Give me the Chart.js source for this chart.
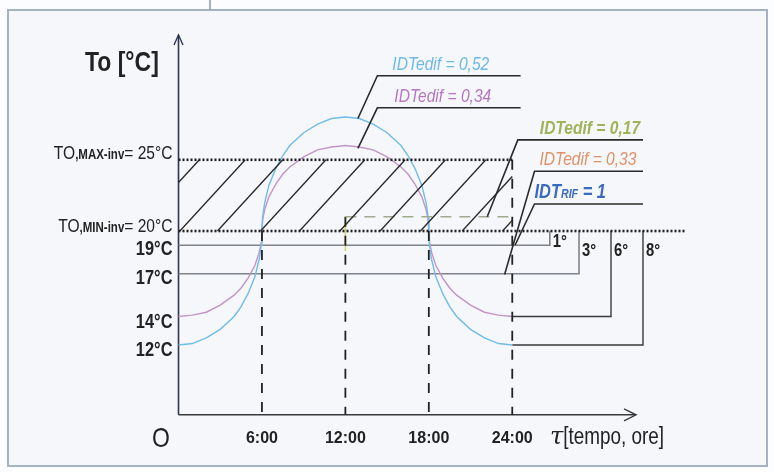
<!DOCTYPE html>
<html><head><meta charset="utf-8">
<script src="https://cdn.jsdelivr.net/npm/chart.js@4.4.1/dist/chart.umd.min.js"></script>
<style>html,body{margin:0;padding:0;background:#fcfdfe;}canvas{display:block;}</style>
</head><body>
<canvas id="c" width="774" height="472"></canvas>
<script>
// ---------------- DATA ----------------
const timeHours   = [0,1,2,3,4,4.5,5,5.5,5.8,5.95,6,6.05,6.2,6.5,7,7.5,8,9,10,11,12,13,14,15,16,16.5,17,17.5,17.8,17.95,18,18.05,18.2,18.5,19,19.5,20,21,22,23,24];
const tempBlue052 = [12.0,12.1,12.5,13.1,14.0,14.7,15.6,16.8,18.0,19.0,20.0,21.0,22.0,23.2,24.4,25.3,26.0,26.9,27.5,27.9,28.0,27.9,27.5,26.9,26.0,25.3,24.4,23.2,22.0,21.0,20.0,19.0,18.0,16.8,15.6,14.7,14.0,13.1,12.5,12.1,12.0];
const tempPurple034 = [14.0,14.1,14.3,14.8,15.5,16.0,16.7,17.6,18.5,19.2,20.0,20.8,21.5,22.4,23.3,24.0,24.5,25.2,25.7,25.9,26.0,25.9,25.7,25.2,24.5,24.0,23.3,22.4,21.5,20.8,20.0,19.2,18.5,17.6,16.7,16.0,15.5,14.8,14.3,14.1,14.0];

const limitMax = 25, limitMin = 20;          // To,MAX-inv / To,MIN-inv
const limitMaxEndX = 24, limitMinEndX = 36.5;
const greenLevel = 21, greenStartX = 12, greenEndX = 24;

const bracketLevels = [19, 17, 14, 12];
const bracketStartX = [0, 0, 24, 24];
const bracketEndX   = [26.7, 28.8, 31.1, 33.4];
const bracketLabels = ['1°', '3°', '6°', '8°'];

const verticalX   = [6, 12, 18, 24];
const verticalTop = [20, 21, 20, 25];

const hatchBaseX = [-3.2, 0.1, 2.8, 5.9, 8.7, 11.6, 14.5, 17.4, 20.4, 23.3];
const hatchRunHours = 4.7;

const idtLabels      = ['IDTedif = 0,52', 'IDTedif = 0,34', 'IDTedif = 0,17', 'IDTedif = 0,33', 'IDT|RIF|= 1'];
const leaderStartX   = [14.3, 14.3, 24.4, 25.6, 25.6];
const leaderEndX     = [24.6, 24.6, 33.4, 33.4, 33.4];
const leaderY        = [30.9, 28.65, 26.4, 24.2, 21.9];
const leaderTargetX  = [12.9, 12.9, 22.2, 23.45, 24.2];
const leaderTargetY  = [27.9, 25.8, 21.0, 16.95, 19.0];

const xTickValues = [6, 12, 18, 24];
const xTickLabels = ['6:00', '12:00', '18:00', '24:00'];
const yTickValues = [25, 20, 19, 17, 14, 12];
const yTickLabels = ['TO,MAX-inv= 25°C', 'TO,MIN-inv= 20°C', '19°C', '17°C', '14°C', '12°C'];
const yAxisTitle = 'To [°C]';
const xAxisTitle = 'τ[tempo, ore]';
const originLabel = 'O';

// ---------------- LAYOUT / STYLE ----------------
const Y_MIN = 7.1, Y_MAX = 33.76, X_MAX = 37.5, X_AXIS_END = 32.9;
const yLabelDy = [-1, 1, 10, 10, 11, 11];
const idtDx = [15, 17, 22, 5, 0];
const idtColors = ['#6fb9e6', '#b676c1', '#9fb358', '#de9166', '#3a6abd'];
const idtWeights = ['normal', 'normal', 'bold', 'normal', 'bold'];

function hasFont(name){
  const c = document.createElement('canvas').getContext('2d');
  const s = 'abcdefghijklmnopqrstuvwxyz0123456789ABCDEFG';
  c.font = '40px monospace'; const a = c.measureText(s).width;
  c.font = `40px '${name}', monospace`; const b = c.measureText(s).width;
  return Math.abs(a - b) > 0.5;
}
const NARROW = hasFont('Liberation Sans Narrow');
const SX = NARROW ? 1 : 0.82;
const FAM = NARROW ? "'Liberation Sans Narrow'" : "'Liberation Sans'";
function fnt(size, weight, style){ return `${style||'normal'} ${weight||'normal'} ${size}px ${FAM}`; }

// ---------------- DATASETS ----------------
const ds = [];
function seg(pts, color, width, dash){
  ds.push({data: pts.map(p => ({x: p[0], y: p[1]})), showLine: true, borderColor: color,
    borderWidth: width, borderDash: dash || [], pointRadius: 0, pointHoverRadius: 0,
    fill: false, tension: 0, clip: false});
}
const DARK = '#2b2b2b';
// leaders + underlines
for (let i = 0; i < idtLabels.length; i++) {
  seg([[leaderEndX[i], leaderY[i]], [leaderStartX[i], leaderY[i]], [leaderTargetX[i], leaderTargetY[i]]], DARK, 1.6);
}
// hatch lines (clipped to 0..24)
for (const b of hatchBaseX) {
  let x1 = b, y1 = limitMin, x2 = b + hatchRunHours, y2 = limitMax;
  const k = (limitMax - limitMin) / hatchRunHours;
  if (x1 < 0) { y1 = limitMin + k * (0 - b); x1 = 0; }
  if (x2 > limitMaxEndX) { x2 = limitMaxEndX; y2 = limitMin + k * (limitMaxEndX - b); }
  if (x2 > x1) seg([[x1, y1], [x2, y2]], '#262626', 1.3);
}
// dotted limits
seg([[0, limitMax], [limitMaxEndX, limitMax]], '#1e1e1e', 2.6, [2, 2]);
seg([[0, limitMin], [limitMinEndX, limitMin]], '#1e1e1e', 2.6, [2, 2]);
// green dashed
seg([[greenStartX, greenLevel], [greenEndX, greenLevel]], '#9fab8e', 1.6, [11, 8]);
// verticals
for (let i = 0; i < verticalX.length; i++) {
  seg([[verticalX[i], verticalTop[i]], [verticalX[i], Y_MIN]], '#222', 1.8, [10, 9]);
}
seg([[12, greenLevel], [12, 18.6]], '#d6d36a', 1.6);
// curves
seg(timeHours.map((t, i) => [t, tempBlue052[i]]), '#72bce8', 1.4);
seg(timeHours.map((t, i) => [t, tempPurple034[i]]), '#c295c7', 1.4);
// brackets
for (let i = 0; i < bracketLevels.length; i++) {
  seg([[bracketStartX[i], bracketLevels[i]], [bracketEndX[i], bracketLevels[i]], [bracketEndX[i], limitMin]],
      i < 2 ? '#7f848c' : '#3a3a3a', i < 2 ? 1.6 : 1.4);
}
// axes
seg([[0, Y_MIN], [0, Y_MAX]], '#2d3550', 1.6);
seg([[0, Y_MIN], [X_AXIS_END, Y_MIN]], '#3a3a3a', 1.6);

// ---------------- PLUGINS ----------------
function drawParts(ctx, parts, x, y, align){
  let total = 0; const ws = [];
  for (const p of parts) { ctx.font = p.font; const w = ctx.measureText(p.t).width * (p.sx ?? SX); ws.push(w); total += w; }
  let cx = align === 'right' ? x - total : (align === 'center' ? x - total / 2 : x);
  parts.forEach((p, i) => {
    ctx.save(); ctx.font = p.font; ctx.fillStyle = p.color || '#222';
    ctx.textBaseline = 'alphabetic'; ctx.textAlign = 'left';
    ctx.translate(cx, y); ctx.scale(p.sx ?? SX, 1); ctx.fillText(p.t, 0, 0); ctx.restore();
    cx += ws[i];
  });
}
const framePlugin = {
  id: 'frame',
  beforeDraw(chart){
    const ctx = chart.ctx;
    ctx.save();
    ctx.fillStyle = '#fcfdfe'; ctx.fillRect(0, 0, 774, 472);
    ctx.fillStyle = '#f5f7fb'; ctx.fillRect(8, 10, 759, 456);
    ctx.strokeStyle = '#a6b1c2'; ctx.lineWidth = 2; ctx.strokeRect(8, 10, 759, 456);
    ctx.strokeStyle = '#8799b3'; ctx.lineWidth = 1.5;
    ctx.beginPath(); ctx.moveTo(210, 0); ctx.lineTo(210, 10); ctx.stroke();
    ctx.restore();
  }
};
const textPlugin = {
  id: 'texts',
  afterDatasetsDraw(chart){
    const ctx = chart.ctx, xs = chart.scales.x, ys = chart.scales.y;
    const X = v => xs.getPixelForValue(v), Y = v => ys.getPixelForValue(v);
    ctx.save();
    // arrowheads
    ctx.strokeStyle = '#2d3550'; ctx.lineWidth = 1.4;
    const tx = X(0), ty = Y(Y_MAX);
    ctx.beginPath(); ctx.moveTo(tx - 4.5, ty + 10); ctx.lineTo(tx, ty); ctx.lineTo(tx + 4.5, ty + 10); ctx.stroke();
    ctx.strokeStyle = '#3a3a3a';
    const ax = X(X_AXIS_END), ay = Y(Y_MIN);
    ctx.beginPath(); ctx.moveTo(ax - 12, ay - 6); ctx.lineTo(ax, ay); ctx.lineTo(ax - 12, ay + 6); ctx.stroke();
    // titles
    drawParts(ctx, [{t: yAxisTitle, font: fnt(28, 'bold'), color: '#222'}], 85, 71, 'left');
    drawParts(ctx, [{t: originLabel, font: fnt(28), color: '#222'}], 152, 447, 'left');
    drawParts(ctx, [{t: xAxisTitle.slice(0, 1), font: "italic 24px 'DejaVu Serif'", sx: 1, color: '#222'},
                    {t: xAxisTitle.slice(1), font: fnt(23), color: '#222'}], 550, 444, 'left');
    // y labels
    yTickValues.forEach((v, i) => {
      const lab = yTickLabels[i], yy = Y(v) + yLabelDy[i], xr = X(0) - 6;
      const m = lab.match(/^(TO)(,[A-Za-z]+-inv)(= .*)$/);
      if (m) {
        drawParts(ctx, [{t: m[1], font: fnt(19), color: '#222'}, {t: m[2], font: fnt(14, 'bold'), color: '#222'},
                        {t: m[3], font: fnt(19), color: '#222'}], xr, yy, 'right');
      } else {
        drawParts(ctx, [{t: lab, font: fnt(20, 'bold'), color: '#222'}], xr, yy, 'right');
      }
    });
    // bracket labels
    bracketLabels.forEach((lab, i) => {
      const yy = i === 0 ? Y(bracketLevels[0]) + 2 : Y(limitMin) + 25;
      drawParts(ctx, [{t: lab, font: fnt(18, 'bold'), color: '#222'}], X(bracketEndX[i]) + 3, yy, 'left');
    });
    // IDT labels
    idtLabels.forEach((lab, i) => {
      const x0 = X(leaderStartX[i]) + idtDx[i], y0 = Y(leaderY[i]) - 6;
      const parts = lab.split('|');
      if (parts.length === 3) {
        drawParts(ctx, [{t: parts[0], font: fnt(20, 'bold', 'italic'), color: idtColors[i]},
                        {t: parts[1], font: fnt(13, 'bold', 'italic'), color: idtColors[i]},
                        {t: ' ' + parts[2], font: fnt(20, 'bold', 'italic'), color: idtColors[i]}], x0, y0, 'left');
      } else {
        drawParts(ctx, [{t: lab, font: fnt(19, idtWeights[i], 'italic'), color: idtColors[i]}], x0, y0, 'left');
      }
    });
    ctx.restore();
  }
};

new Chart(document.getElementById('c'), {
  type: 'scatter',
  data: {datasets: ds},
  options: {
    responsive: false, animation: false, devicePixelRatio: 1, events: [],
    layout: {padding: {left: 178.5, top: 35, right: 74, bottom: 10}},
    plugins: {legend: {display: false}, tooltip: {enabled: false}},
    scales: {
      x: {type: 'linear', min: 0, max: X_MAX, position: 'bottom',
          grid: {display: false, drawTicks: false}, border: {display: false},
          afterBuildTicks: s => { s.ticks = xTickValues.map(v => ({value: v})); },
          ticks: {autoSkip: false, maxRotation: 0, padding: 14, color: '#222',
                  font: {family: NARROW ? 'Liberation Sans Narrow' : 'Liberation Sans', size: NARROW ? 18 : 16, weight: 'bold'},
                  callback: v => xTickLabels[xTickValues.indexOf(v)]}},
      y: {type: 'linear', min: Y_MIN, max: Y_MAX, display: false}
    }
  },
  plugins: [framePlugin, textPlugin]
});
</script>
</body></html>
